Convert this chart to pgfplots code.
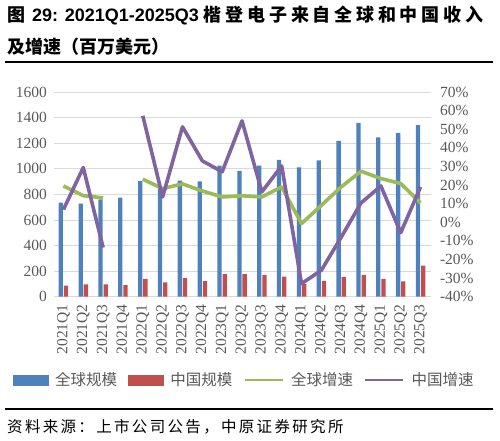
\documentclass[border=0pt]{standalone}
\usepackage{fontspec}
\usepackage{pgfplots}
\usepackage{pgfplotstable}
\pgfplotsset{compat=1.18}
\setmainfont{Liberation Serif}
\newfontfamily\cjk{Noto Sans CJK SC}
\newfontfamily\cjkls{Noto Sans CJK SC}[LetterSpace=21]
\newfontfamily\cjkfoot{Noto Sans CJK SC}[LetterSpace=15]
\newfontfamily\arialf{Liberation Sans}
\definecolor{cblue}{HTML}{4F81BD}
\definecolor{cred}{HTML}{C0504D}
\definecolor{cgreen}{HTML}{9BBB59}
\definecolor{cpurple}{HTML}{8064A2}
\definecolor{labgray}{HTML}{595959}
\definecolor{gridgray}{HTML}{D9D9D9}

\pgfplotstableread{
x g c gg cg
0 735 86 19.5 6.8
1 727 96 14.3 29.4
2 761 96 13.1 -13.6
3 774 91 nan nan
4 903 140 23.1 57.2
5 852 112 18.1 13.6
6 907 145 20.6 51.3
7 902 122 16.8 33.0
8 1024 177 13.6 27.1
9 983 177 14.2 54.5
10 1024 171 13.6 16.3
11 1069 156 19.0 30.3
12 1011 100 -0.7 -33.0
13 1066 123 9.1 -25.8
14 1217 154 19.0 -8.0
15 1358 170 27.4 10.4
16 1246 140 23.5 19.5
17 1280 120 20.8 -5.6
18 1342 243 10.4 19.0
}\data

\begin{document}
\begin{tikzpicture}
\path[use as bounding box] (0pt,0pt) rectangle (500pt,441pt);

% title
\node[anchor=west, inner sep=0pt] at (7pt,425pt) {\fontsize{18}{20}\selectfont\bfseries{\cjk 图}\hspace{7pt}{\arialf 29: 2021Q1-2025Q3}\hspace{5pt}{\cjkls 楷登电子来自全球和中国收入}};
\node[anchor=west, inner sep=0pt] at (7pt,394pt) {\fontsize{18}{20}\selectfont\bfseries\cjk 及增速（百万美元）};
\draw[line width=2.5pt] (5pt,379pt) -- (493pt,379pt);

% footer
\draw[line width=2.3pt] (5pt,32.3pt) -- (493pt,32.3pt);
\node[anchor=west, inner sep=0pt] at (7pt,14.3pt) {\fontsize{15.5}{17}\selectfont\cjkfoot 资料来源：上市公司公告，中原证券研究所};

\begin{axis}[
  at={(53.5pt,144.3pt)}, anchor=south west, scale only axis,
  width=377pt, height=204.7pt,
  xmin=-0.5, xmax=18.5, ymin=0, ymax=1600,
  ybar, bar width=4.3pt,
  xtick={0,...,18},
  xticklabels={2021Q1,2021Q2,2021Q3,2021Q4,2022Q1,2022Q2,2022Q3,2022Q4,2023Q1,2023Q2,2023Q3,2023Q4,2024Q1,2024Q2,2024Q3,2024Q4,2025Q1,2025Q2,2025Q3},
  ytick={0,200,...,1600},
  axis line style={draw=none}, tick style={draw=none},
  ymajorgrids, grid style={draw=gridgray, line width=0.8pt},
  ticklabel style={font=\fontsize{15.5}{16}\selectfont, text=labgray},
  x tick label style={rotate=90, anchor=east},
  yticklabel style={xshift=-3pt},
  /pgf/number format/assume math mode=true,
  /pgf/number format/set thousands separator={},
]
\addplot[fill=cblue, draw=none, bar shift=-2.6pt] table[x=x,y=g]{\data};
\addplot[fill=cred, draw=none, bar shift=2.6pt] table[x=x,y=c]{\data};
\end{axis}

\begin{axis}[
  at={(53.5pt,144.3pt)}, anchor=south west, scale only axis,
  width=377pt, height=204.7pt,
  xmin=-0.5, xmax=18.5, ymin=-40, ymax=70,
  ytick={-40,-30,...,70},
  axis y line*=right, hide x axis,
  axis line style={draw=none}, tick style={draw=none},
  ticklabel style={font=\fontsize{15.5}{16}\selectfont, text=labgray},
  yticklabel style={xshift=6pt},
  yticklabel={\pgfmathprintnumber{\tick}\%},
  /pgf/number format/assume math mode=true,
  unbounded coords=jump,
  legend columns=4,
  legend style={at={(0.503,-0.407)}, anchor=center, draw=none, fill=none,
    font=\cjk\fontsize{15.5}{16}\selectfont, text=labgray,
    nodes={inner sep=0pt},
    /tikz/every odd column/.append style={column sep=7pt},
    /tikz/every even column/.append style={column sep=11pt}},
]
\addlegendimage{legend image code/.code={\fill[cblue] (0pt,-5pt) rectangle (35pt,5pt);}}
\addlegendentry{全球规模}
\addlegendimage{legend image code/.code={\fill[cred] (0pt,-5pt) rectangle (35pt,5pt);}}
\addlegendentry{中国规模}
\addplot[cgreen, line width=3.6pt, line join=round, no marks,
  legend image code/.code={\draw[cgreen, line width=2.6pt] (0pt,0pt) -- (38pt,0pt);}] table[x=x,y=gg]{\data};
\addlegendentry{全球增速}
\addplot[cpurple, line width=3.6pt, line join=round, no marks,
  legend image code/.code={\draw[cpurple, line width=2.6pt] (0pt,0pt) -- (38pt,0pt);}] table[x=x,y=cg]{\data};
\addlegendentry{中国增速}
\end{axis}
\end{tikzpicture}
\end{document}
